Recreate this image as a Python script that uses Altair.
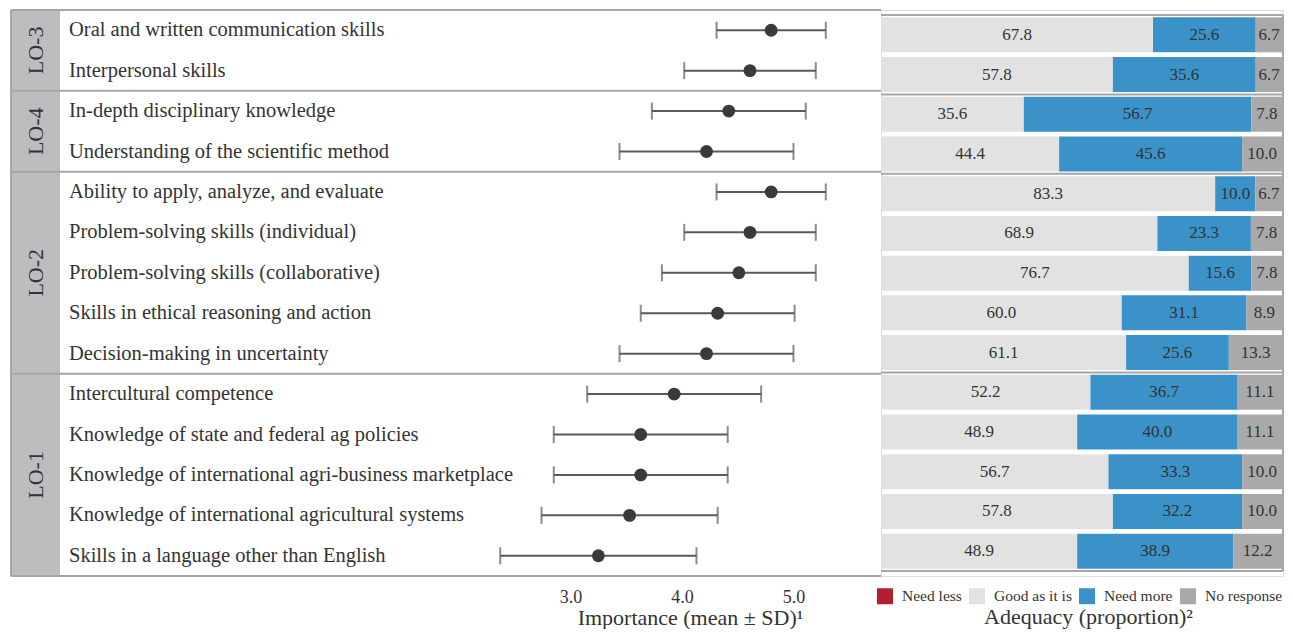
import altair as alt
import pandas as pd

# ---------------- data ----------------
groups = ["LO-3", "LO-4", "LO-2", "LO-1"]
group_sizes = [2, 2, 5, 5]

items = [
    "Oral and written communication skills",
    "Interpersonal skills",
    "In-depth disciplinary knowledge",
    "Understanding of the scientific method",
    "Ability to apply, analyze, and evaluate",
    "Problem-solving skills (individual)",
    "Problem-solving skills (collaborative)",
    "Skills in ethical reasoning and action",
    "Decision-making in uncertainty",
    "Intercultural competence",
    "Knowledge of state and federal ag policies",
    "Knowledge of international agri-business marketplace",
    "Knowledge of international agricultural systems",
    "Skills in a language other than English",
]
importance_mean = [4.80, 4.61, 4.42, 4.22, 4.80, 4.61, 4.51, 4.32, 4.22,
                   3.93, 3.63, 3.63, 3.53, 3.25]
importance_sd = [0.49, 0.59, 0.69, 0.78, 0.49, 0.59, 0.69, 0.69, 0.78,
                 0.78, 0.78, 0.78, 0.79, 0.88]

categories = ["Need less", "Good as it is", "Need more", "No response"]
cat_colors = ["#b41f2e", "#e2e2e2", "#3b92c8", "#a9a9a9"]
need_less = [0.0] * 14
good_as_is = [67.8, 57.8, 35.6, 44.4, 83.3, 68.9, 76.7, 60.0, 61.1,
              52.2, 48.9, 56.7, 57.8, 48.9]
need_more = [25.6, 35.6, 56.7, 45.6, 10.0, 23.3, 15.6, 31.1, 25.6,
             36.7, 40.0, 33.3, 32.2, 38.9]
no_response = [6.7, 6.7, 7.8, 10.0, 6.7, 7.8, 7.8, 8.9, 13.3,
               11.1, 11.1, 10.0, 10.0, 12.2]

# ---------------- tables ----------------
FONT = "Liberation Serif"
TXT = "#333333"
LINE = "#a6a6a8"
W1, W2, H = 870, 402, 566
ROWS = len(items)

items_df = pd.DataFrame({
    "item": items, "idx": list(range(ROWS)),
    "mean": importance_mean, "sd": importance_sd,
})
ends = []
acc = 0
for s in group_sizes:
    acc += s
    ends.append(acc)
starts = [e - s for e, s in zip(ends, group_sizes)]
groups_df = pd.DataFrame({"group": groups, "start": starts, "end": ends})
bounds_df = pd.DataFrame({"b": [0] + ends})

series = [need_less, good_as_is, need_more, no_response]
rows = []
for i in range(ROWS):
    for k, c in enumerate(categories):
        rows.append({"idx": i, "category": c, "order": k, "value": series[k][i]})
bars_df = pd.DataFrame(rows)

yscale = alt.Scale(domain=[0, ROWS], reverse=True, nice=False, zero=False)


def Y(field):
    return alt.Y(field, type="quantitative", scale=yscale, axis=None)


xs_left = alt.Scale(domain=[-2.018, 5.785], nice=False, zero=False)
x_axis_left = alt.Axis(
    values=[3, 4, 5], format=".1f", ticks=False, domain=False, grid=False,
    labelFont=FONT, labelFontSize=18, labelColor=TXT, labelPadding=12,
    title="Importance (mean ± SD)¹", titleFont=FONT, titleFontSize=22,
    titleFontWeight="normal", titleColor=TXT, titlePadding=1, titleX=679,
)


def XL(field):
    return alt.X(field, type="quantitative", scale=xs_left, axis=x_axis_left)


xs_right = alt.Scale(domain=[0, 100.2], nice=False, zero=True)
x_axis_right = alt.Axis(
    labels=False, ticks=False, domain=False, grid=False,
    title="Adequacy (proportion)²", titleFont=FONT, titleFontSize=22,
    titleFontWeight="normal", titleColor=TXT, titlePadding=30, titleX=207,
)

rule_style = dict(color=LINE, strokeWidth=2, strokeJoin="bevel", strokeCap="butt")

# ---------------- left panel ----------------
strip = alt.Chart(groups_df).mark_rect(color="#bdbdbf").encode(
    x=alt.value(0), x2=alt.value(49), y=Y("start"), y2="end:Q")
left_border = alt.Chart(groups_df).mark_rule(**rule_style).encode(
    x=alt.value(0), y=Y("start"), y2="end:Q")
dividers_l = alt.Chart(bounds_df).mark_rule(**rule_style).encode(
    y=Y("b"), x=alt.value(0), x2=alt.value(W1))
glabels = alt.Chart(groups_df).transform_calculate(
    mid="(datum.start + datum.end) / 2"
).mark_text(angle=270, font=FONT, fontSize=22, color=TXT).encode(
    x=alt.value(24.5), y=Y("mid"), text="group:N")

base_items = alt.Chart(items_df).transform_calculate(
    pos="datum.idx + 0.5",
    lo="datum.mean - datum.sd",
    hi="datum.mean + datum.sd",
)
ilabels = base_items.mark_text(align="left", baseline="middle", font=FONT,
                               fontSize=20.5, color=TXT).encode(
    x=alt.value(58), y=Y("pos"), text="item:N")
whisk = base_items.mark_rule(color="#5a5a5a", strokeWidth=2, strokeJoin="bevel").encode(
    x=XL("lo"), x2="hi:Q", y=Y("pos"))
caps = base_items.transform_fold(["lo", "hi"], as_=["end", "val"]).mark_tick(
    orient="vertical", size=17, thickness=2, color="#5a5a5a").encode(
    x=XL("val"), y=Y("pos"))
dots = base_items.mark_circle(size=165, color="#3a3a3a", opacity=1).encode(
    x=XL("mean"), y=Y("pos"))

left = alt.layer(strip, left_border, dividers_l, glabels, ilabels,
                 whisk, caps, dots).properties(width=W1, height=H)

# ---------------- right panel ----------------
base_bars = alt.Chart(bars_df).transform_stack(
    stack="value", groupby=["idx"], as_=["x0", "x1"],
    sort=[alt.SortField("order", order="ascending")],
).transform_calculate(pos="datum.idx + 0.5", mid="(datum.x0 + datum.x1) / 2")

bar_layer = base_bars.mark_bar(size=35).encode(
    x=alt.X("x0:Q", scale=xs_right, axis=x_axis_right),
    x2="x1:Q",
    y=Y("pos"),
    color=alt.Color(
        "category:N",
        scale=alt.Scale(domain=categories, range=cat_colors),
        legend=alt.Legend(
            orient="none", legendX=866, legendY=578, direction="horizontal",
            title=None, symbolType="square", symbolSize=256,
            symbolStrokeWidth=0, labelFont=FONT, labelFontSize=15.5,
            labelColor=TXT, labelOffset=9, columnPadding=7,
        ),
    ),
)
bar_text = base_bars.transform_filter("datum.value > 0").mark_text(
    font=FONT, fontSize=17, color=TXT, baseline="middle").encode(
    x=alt.X("mid:Q", scale=xs_right, axis=x_axis_right),
    y=Y("pos"),
    text=alt.Text("value:Q", format=".1f"),
)
dividers_r = alt.Chart(bounds_df).mark_rule(**rule_style).encode(
    y=Y("b"), x=alt.value(0), x2=alt.value(W2))
right_border = alt.Chart(groups_df).mark_rule(**rule_style).encode(
    x=alt.value(W2), y=Y("start"), y2="end:Q")

right = alt.layer(bar_layer, bar_text, dividers_r, right_border).properties(
    width=W2, height=H)

chart = alt.hconcat(left, right, spacing=0, bounds="flush").properties(
    padding={"left": 1, "top": 0, "right": 0, "bottom": 0}
).configure_view(stroke=None).configure(background="white")

chart.save("out.html", embed_options={"renderer": "svg", "actions": False})
